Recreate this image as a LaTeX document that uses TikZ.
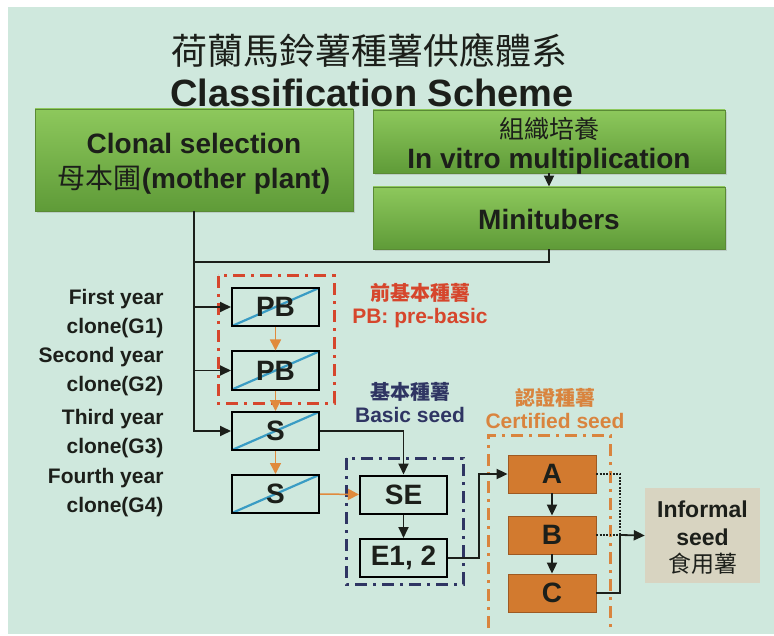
\documentclass[tikz,border=0pt]{standalone}
\usepackage{fontspec}
\setmainfont{Liberation Sans}
\newfontfamily\cjk{Noto Sans CJK TC}
\usetikzlibrary{arrows.meta,shadows}
\definecolor{panel}{HTML}{CFE8DD}
\definecolor{gtop}{HTML}{8DC85C}
\definecolor{gbot}{HTML}{5F9B38}
\definecolor{gborder}{HTML}{5A8A35}
\definecolor{darktext}{HTML}{1C1F1A}
\definecolor{ofill}{HTML}{D27A2F}
\definecolor{oborder}{HTML}{9E5A22}
\definecolor{diagblue}{HTML}{3A9CC4}
\definecolor{redc}{HTML}{D6462C}
\definecolor{navy}{HTML}{2F3563}
\definecolor{certc}{HTML}{D9843E}
\definecolor{arrorange}{HTML}{E08A3C}
\definecolor{inffill}{HTML}{D8D4C1}
\begin{document}
\begin{tikzpicture}[x=1pt,y=-1pt,
  greenbox/.style={draw=gborder, line width=0.8pt, top color=gtop, bottom color=gbot,
    inner sep=0pt,
    drop shadow={opacity=0.25, shadow xshift=2pt, shadow yshift=-2pt}},
  greentext/.style={align=center, text=darktext, inner sep=0pt},
  seedbox/.style={draw=black, line width=2pt, minimum width=87pt, minimum height=38pt,
    inner sep=0pt, text=darktext, font=\bfseries\fontsize{28}{30}\selectfont},
  diagbox/.style={seedbox, path picture={\draw[diagblue, line width=2.2pt]
    (path picture bounding box.south west) -- (path picture bounding box.north east);}},
  certbox/.style={draw=oborder, line width=0.8pt, fill=ofill, minimum width=88pt,
    minimum height=38pt, inner sep=0pt, text=darktext, font=\bfseries\fontsize{28}{30}\selectfont},
  arr/.style={-{Triangle[length=11pt,width=10pt]}, line width=1.8pt, draw=darktext},
  oarr/.style={-{Triangle[length=11pt,width=11pt]}, line width=1.5pt, draw=arrorange},
  dashdot/.style={line width=3pt, dash pattern=on 12pt off 6pt on 3pt off 6pt},
  sidelabel/.style={anchor=east, align=right, text=darktext, font=\bfseries\fontsize{21}{29}\selectfont},
  grouplabel/.style={align=center, font=\bfseries\fontsize{21}{23}\selectfont}
]
\useasboundingbox (0,0) rectangle (774,636);
\fill[white] (0,0) rectangle (774,636);
\fill[panel] (8,7) rectangle (774,634);

% titles
\node[text=darktext, font=\cjk\fontsize{36}{36}\selectfont] (tcn) at (369,51) {荷蘭馬鈴薯種薯供應體系};
\node[text=darktext, font=\bfseries\fontsize{38}{38}\selectfont] (ten) at (372,93) {Classification Scheme};

% green boxes
\node[greenbox, minimum width=318pt, minimum height=102pt] (clonal) at (194,160) {};
\node[greentext, font=\bfseries\fontsize{28}{35}\selectfont] (clonaltxt) at (194,164)
  {Clonal selection\\{\cjk\mdseries 母本圃}(mother plant)};
\node[greenbox, minimum width=352pt, minimum height=63pt] (vitro) at (549,141.5) {};
\node[greentext, font=\bfseries\fontsize{28}{30}\selectfont] (vitrotxt) at (549,145.5)
  {{\cjk\mdseries\fontsize{25}{25}\selectfont 組織培養}\\In vitro multiplication};
\node[greenbox, minimum width=352pt, minimum height=62pt] (mini) at (549,218) {};
\node[greentext, font=\bfseries\fontsize{28}{30}\selectfont] (minitxt) at (549,219) {Minitubers};

% group frames
\draw[redc, dashdot] (218,276) rectangle (334,403);
\draw[navy, dashdot] (346,458) rectangle (463,584);
\draw[certc, dashdot] (488,628) -- (488,435) -- (610,435) -- (610,628);

% seed boxes
\node[diagbox] (pb1) at (275.5,307) {PB};
\node[diagbox] (pb2) at (275.5,370.5) {PB};
\node[diagbox] (s3) at (275.5,431) {S};
\node[diagbox] (s4) at (275.5,494) {S};
\node[seedbox] (se) at (403.5,494.5) {SE};
\node[seedbox] (e12) at (403.5,558) {E1, 2};
\node[certbox] (a) at (552,474) {A};
\node[certbox] (b) at (552,535) {B};
\node[certbox] (c) at (552,593) {C};
\node[fill=inffill, minimum width=115pt, minimum height=95pt, inner sep=0pt] (inf) at (702.5,535.5) {};
\node[greentext, font=\bfseries\fontsize{23}{27.5}\selectfont] (inftxt) at (702.5,538)
  {Informal\\seed\\{\cjk\mdseries 食用薯}};

% side labels
\node[sidelabel] (g1) at (167,314) {First year\\clone(G1)};
\node[sidelabel] (g2) at (167,372) {Second year\\clone(G2)};
\node[sidelabel] (g3) at (167,434) {Third year\\clone(G3)};
\node[sidelabel] (g4) at (167,493) {Fourth year\\clone(G4)};

% group labels
\node[grouplabel, text=redc] (lpb) at (420,306) {{\cjk\fontsize{20}{20}\selectfont 前基本種薯}\\PB: pre-basic};
\node[grouplabel, text=navy] (lbs) at (410,402.5) {{\cjk\fontsize{20}{20}\selectfont 基本種薯}\\Basic seed};
\node[grouplabel, text=certc] (lcs) at (555,408) {{\cjk\fontsize{20}{20}\selectfont 認證種薯}\\Certified seed};

% connectors
\coordinate (j) at (194,262);
\draw[arr] (vitro.south) -- (mini.north);
\draw[line width=1.8pt, draw=darktext] (mini.south) |- (j);
\draw[arr] (clonal.south) |- (pb1.west);
\draw[arr] (clonal.south) |- (pb2.west);
\draw[arr] (clonal.south) |- (s3.west);
\draw[oarr] (pb1.south) -- (pb2.north);
\draw[oarr] (pb2.south) -- (s3.north);
\draw[oarr] (s3.south) -- (s4.north);
\draw[oarr] (s4.east) -- (se.west);
\draw[arr] (s3.east) -| (se.north);
\draw[arr] (se.south) -- (e12.north);
\draw[arr] (e12.east) -- ++(31,0) |- (a.west);
\draw[arr] (a.south) -- (b.north);
\draw[arr] (b.south) -- (c.north);
\coordinate (m) at (620,535);
\draw[line width=1.8pt, draw=darktext, dash pattern=on 1.8pt off 1.5pt] (a.east) -| (m);
\draw[line width=1.8pt, draw=darktext, dash pattern=on 1.8pt off 1.5pt] (b.east) -- (m);
\draw[line width=1.8pt, draw=darktext] (c.east) -| (m);
\draw[arr] (m) -- (inf.west);
\end{tikzpicture}
\end{document}
